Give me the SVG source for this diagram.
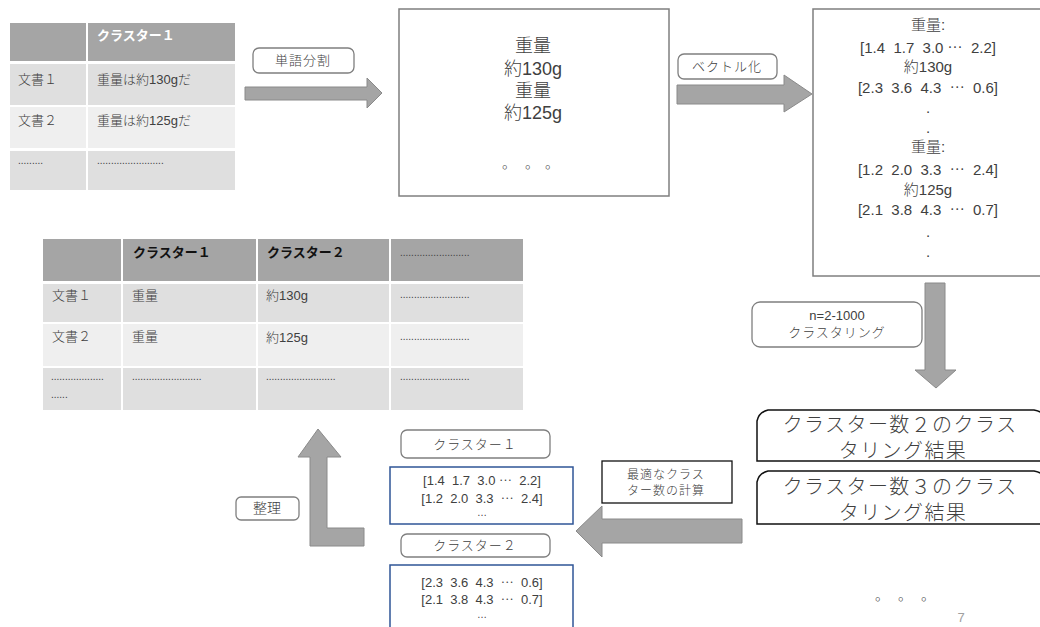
<svg xmlns="http://www.w3.org/2000/svg" width="1040" height="627" viewBox="0 0 1040 627">
<style>
text{white-space:pre;}
.t{font-family:"Liberation Sans","Noto Sans CJK JP",sans-serif;fill:#404040;font-weight:300;}
.j{font-family:"Noto Sans CJK JP",sans-serif;fill:#404040;font-weight:300;}
.c{text-anchor:middle;}
.hw{font-family:"Noto Sans CJK JP",sans-serif;font-weight:bold;fill:#ffffff;font-size:13px;}
.hb{font-family:"Noto Sans CJK JP",sans-serif;font-weight:bold;fill:#111111;font-size:13px;}
.lab{fill:#ffffff;stroke:#7f7f7f;stroke-width:1.3;}
.arrow{fill:#a5a5a5;stroke:#8a8a8a;stroke-width:1;}
.blue{fill:#ffffff;stroke:#2f5597;stroke-width:1.5;}
.box{fill:#ffffff;stroke:#7f7f7f;stroke-width:1.5;}
.res{fill:#ffffff;stroke:#111111;stroke-width:1.5;}
.h{fill:#a5a5a5;}
.r1{fill:#dfdfdf;}
.r2{fill:#efefef;}
</style>
<rect width="1040" height="627" fill="#ffffff"/>

<g id="table1">
<rect class="h" x="10" y="23" width="76" height="38"/>
<rect class="h" x="88" y="23" width="147" height="38"/>
<rect class="r1" x="10" y="64" width="76" height="41"/>
<rect class="r1" x="88" y="64" width="147" height="41"/>
<rect class="r2" x="10" y="107" width="76" height="41"/>
<rect class="r2" x="88" y="107" width="147" height="41"/>
<rect class="r1" x="10" y="151" width="76" height="39"/>
<rect class="r1" x="88" y="151" width="147" height="39"/>
<text class="hw" x="97" y="40">クラスター１</text>
<text class="j" x="18" y="84" font-size="13">文書１</text>
<text class="j" x="97" y="84" font-size="13">重量は約<tspan font-family="Liberation Sans">130g</tspan>だ</text>
<text class="j" x="18" y="125" font-size="13">文書２</text>
<text class="j" x="97" y="125" font-size="13">重量は約<tspan font-family="Liberation Sans">125g</tspan>だ</text>
<text class="t" x="18" y="164" font-size="10">.........</text>
<text class="t" x="97" y="164" font-size="10">........................</text>
</g>

<g id="words">
<rect class="box" x="399" y="9" width="270" height="187"/>
<text class="j c" x="533" y="52" font-size="18">重量</text>
<text class="j c" x="533" y="75" font-size="18">約<tspan font-family="Liberation Sans">130g</tspan></text>
<text class="j c" x="533" y="97" font-size="18">重量</text>
<text class="j c" x="533" y="119" font-size="18">約<tspan font-family="Liberation Sans">125g</tspan></text>
<text class="j" x="502 525 545" y="168" font-size="14">。。。</text>
</g>

<g id="vectors">
<rect class="box" x="813" y="9" width="240" height="267"/>
<text class="t c" x="928" y="30" font-size="15">重量:</text>
<text class="t c" x="928" y="53" font-size="15">[1.4  1.7  3.0 ⋯  2.2]</text>
<text class="t c" x="928" y="72" font-size="15">約130g</text>
<text class="t c" x="928" y="93" font-size="15">[2.3  3.6  4.3  ⋯  0.6]</text>
<text class="t c" x="928" y="113" font-size="15">.</text>
<text class="t c" x="928" y="133" font-size="15">.</text>
<text class="t c" x="928" y="152" font-size="15">重量:</text>
<text class="t c" x="928" y="175" font-size="15">[1.2  2.0  3.3  ⋯  2.4]</text>
<text class="t c" x="928" y="195" font-size="15">約125g</text>
<text class="t c" x="928" y="215" font-size="15">[2.1  3.8  4.3  ⋯  0.7]</text>
<text class="t c" x="928" y="237" font-size="15">.</text>
<text class="t c" x="928" y="257" font-size="15">.</text>
</g>

<g id="result2">
<path class="res" d="M757,461 L757,421 Q759,412 768,410 L1034,410 Q1042,411 1047,418 L1047,461 Z"/>
<text class="j c" x="900" y="432" font-size="20" letter-spacing="1.4">クラスター数２のクラス</text>
<text class="j c" x="903" y="458" font-size="20" letter-spacing="1.4">タリング結果</text>
</g>

<g id="result3">
<path class="res" d="M757,524 L757,482 Q759,473 768,471 L1034,471 Q1042,472 1047,479 L1047,524 Z"/>
<text class="j c" x="900" y="494" font-size="20" letter-spacing="1.4">クラスター数３のクラス</text>
<text class="j c" x="903" y="520" font-size="20" letter-spacing="1.4">タリング結果</text>
</g>

<g id="more-results">
<text class="j" x="875 898 921" y="600" font-size="14">。。。</text>
</g>

<g id="cluster1">
<rect class="lab" x="401" y="430" width="149" height="28" rx="6"/>
<text class="j c" x="475" y="449" font-size="13" letter-spacing="1">クラスター１</text>
<rect class="blue" x="390" y="467" width="183" height="57"/>
<text class="t c" x="482" y="485" font-size="13">[1.4  1.7  3.0 ⋯  2.2]</text>
<text class="t c" x="482" y="503" font-size="13">[1.2  2.0  3.3  ⋯  2.4]</text>
<text class="t c" x="482" y="516" font-size="10">…</text>
</g>

<g id="cluster2">
<rect class="lab" x="401" y="534" width="149" height="23" rx="6"/>
<text class="j c" x="475" y="550" font-size="13" letter-spacing="1">クラスター２</text>
<rect class="blue" x="390" y="565" width="183" height="70"/>
<text class="t c" x="482" y="587" font-size="13">[2.3  3.6  4.3  ⋯  0.6]</text>
<text class="t c" x="482" y="604" font-size="13">[2.1  3.8  4.3  ⋯  0.7]</text>
<text class="t c" x="482" y="618" font-size="10">…</text>
</g>

<g id="table2">
<rect class="h" x="43" y="239" width="78" height="42"/>
<rect class="h" x="123" y="239" width="133" height="42"/>
<rect class="h" x="258" y="239" width="131" height="42"/>
<rect class="h" x="391" y="239" width="132" height="42"/>
<rect class="r1" x="43" y="284" width="78" height="38"/>
<rect class="r1" x="123" y="284" width="133" height="38"/>
<rect class="r1" x="258" y="284" width="131" height="38"/>
<rect class="r1" x="391" y="284" width="132" height="38"/>
<rect class="r2" x="43" y="324" width="78" height="42"/>
<rect class="r2" x="123" y="324" width="133" height="42"/>
<rect class="r2" x="258" y="324" width="131" height="42"/>
<rect class="r2" x="391" y="324" width="132" height="42"/>
<rect class="r1" x="43" y="368" width="78" height="42"/>
<rect class="r1" x="123" y="368" width="133" height="42"/>
<rect class="r1" x="258" y="368" width="131" height="42"/>
<rect class="r1" x="391" y="368" width="132" height="42"/>
<text class="hb" x="133" y="257">クラスター１</text>
<text class="hb" x="267" y="257">クラスター２</text>
<text class="t" x="400" y="256" font-size="10" fill="#111">.........................</text>
<text class="j" x="52" y="300" font-size="13">文書１</text>
<text class="j" x="132" y="300" font-size="13">重量</text>
<text class="j" x="266" y="300" font-size="13">約<tspan font-family="Liberation Sans">130g</tspan></text>
<text class="t" x="400" y="298" font-size="10">.........................</text>
<text class="j" x="52" y="341" font-size="13">文書２</text>
<text class="j" x="132" y="341" font-size="13">重量</text>
<text class="j" x="266" y="342" font-size="13">約<tspan font-family="Liberation Sans">125g</tspan></text>
<text class="t" x="400" y="340" font-size="10">.........................</text>
<text class="t" x="51" y="380" font-size="10">...................</text>
<text class="t" x="51" y="398" font-size="10">......</text>
<text class="t" x="132" y="380" font-size="10">.........................</text>
<text class="t" x="266" y="380" font-size="10">.........................</text>
<text class="t" x="400" y="380" font-size="10">.........................</text>
</g>

<g id="connectors">
<path class="arrow" d="M245,87 L367,87 L367,78 L382,93 L367,108 L367,100 L245,100 Z"/>
<path class="arrow" d="M677,85 L784,85 L784,75 L812,94 L784,112 L784,104 L677,104 Z"/>
<path class="arrow" d="M925,283 L945,283 L945,370 L956,370 L936,388 L915,370 L925,370 Z"/>
<path class="arrow" d="M742,519 L602,519 L602,506 L576,531 L602,557 L602,543 L742,543 Z"/>
<path class="arrow" d="M310,546 L364,546 L364,528 L327,528 L327,457 L341,457 L318,429 L298,457 L310,457 Z"/>
<rect class="lab" x="253" y="48" width="101" height="25" rx="6"/>
<text class="j c" x="303" y="65" font-size="13" letter-spacing="1">単語分割</text>
<rect class="lab" x="678" y="54" width="99" height="25" rx="6"/>
<text class="j c" x="727" y="71" font-size="13" letter-spacing="1">ベクトル化</text>
<rect class="lab" x="752" y="302" width="170" height="45" rx="8"/>
<text class="t c" x="837" y="320" font-size="13">n=2-1000</text>
<text class="j c" x="837" y="337" font-size="13" letter-spacing="1">クラスタリング</text>
<rect x="602" y="461" width="130" height="42" fill="#ffffff" stroke="#111111" stroke-width="1.3"/>
<text class="j c" x="666" y="479" font-size="12" letter-spacing="1">最適なクラス</text>
<text class="j c" x="666" y="495" font-size="12" letter-spacing="1">ター数の計算</text>
<rect class="lab" x="236" y="497" width="63" height="23" rx="5" stroke="#555"/>
<text class="j c" x="267" y="513" font-size="14">整理</text>
</g>

<text x="961" y="622" font-family="Liberation Sans,sans-serif" font-size="13" fill="#a0a0a0" text-anchor="middle">7</text>
</svg>
